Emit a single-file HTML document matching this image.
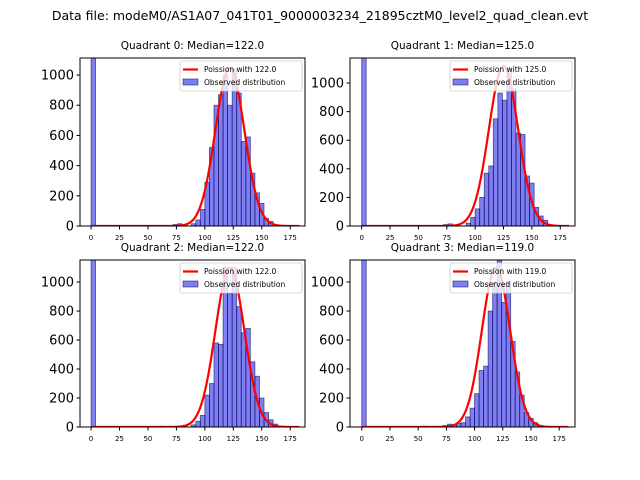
<!DOCTYPE html>
<html><head><meta charset="utf-8">
<style>body{margin:0;background:#fff}svg{display:block;font-family:"DejaVu Sans","Liberation Sans",sans-serif}</style>
</head><body>
<svg id="c" width="640" height="480" xmlns="http://www.w3.org/2000/svg">
<text x="320" y="20" text-anchor="middle" font-size="12.5">Data file: modeM0/AS1A07_041T01_9000003234_21895cztM0_level2_quad_clean.evt</text>
</svg>
<script>
const binWidth = 4;
const binStarts0 = [0,72,76,88,92,96,100,104,108,112,116,120,124,128,132,136,140,144,148,152,156,160];
const counts0 = [5000,10,15,15,40,110,290,520,800,870,1000,800,1040,880,560,590,350,220,150,50,30,10];
const binStarts1 = [0,72,76,92,96,100,104,108,112,116,120,124,128,132,136,140,144,148,152,156,160,164];
const counts1 = [5000,10,15,20,60,120,200,370,420,750,930,880,1100,960,650,640,350,300,130,70,40,10];
const binStarts2 = [0,60,68,76,88,92,96,100,104,108,112,116,120,124,128,132,136,140,144,148,152,156,160];
const counts2 = [5000,5,5,5,15,40,80,220,300,580,570,1100,920,1100,830,650,680,450,350,200,100,50,20];
const binStarts3 = [0,52,56,64,68,72,76,80,84,88,92,96,100,104,108,112,116,120,124,128,132,136,140,144,148,152,156];
const counts3 = [5000,5,5,5,5,10,20,15,25,30,70,130,230,390,420,800,1000,1150,860,1000,590,380,220,100,60,30,10];
const medians = [122.0,125.0,122.0,119.0];
const poissonPeaks = [1050,1120,1100,1100];
const yTicks = [0,200,400,600,800,1000];
const xTicks = [0,25,50,75,100,125,150,175];

const panels = [
 {L:80,T:58,R:305,B:226,x0:-9.7,x1:188,y1:1113,bs:binStarts0,c:counts0},
 {L:350,T:58,R:575,B:226,x0:-10.3,x1:188,y1:1175,bs:binStarts1,c:counts1},
 {L:80,T:260,R:305,B:427,x0:-9.7,x1:188,y1:1152,bs:binStarts2,c:counts2},
 {L:350,T:260,R:575,B:427,x0:-10.4,x1:189,y1:1152,bs:binStarts3,c:counts3}
];
const svg = document.getElementById('c');
const NS = 'http://www.w3.org/2000/svg';
function mk(tag, attrs, parent){const e=document.createElementNS(NS,tag);for(const k in attrs)e.setAttribute(k,attrs[k]);(parent||svg).appendChild(e);return e;}

panels.forEach((p,i)=>{
  const g = mk('g',{});
  
  
  const cid='clip'+i;
  const cp=mk('clipPath',{id:cid},g);
  mk('rect',{x:p.L,y:p.T,width:p.R-p.L,height:p.B-p.T},cp);
  const xs=v=>p.L+(v-p.x0)/(p.x1-p.x0)*(p.R-p.L);
  const ys=v=>p.B-v/p.y1*(p.B-p.T);
  const plot=mk('g',{'clip-path':'url(#'+cid+')'},g);
  p.bs.forEach((b,j)=>{
    const r=mk('rect',{x:xs(b),y:ys(p.c[j]),width:xs(b+binWidth)-xs(b),height:p.B-ys(p.c[j]),fill:'rgba(0,0,230,0.5)',stroke:'rgba(0,0,80,0.6)','stroke-width':0.8},plot);
    
    
  });
  const lam=medians[i];
  const sig=Math.sqrt(lam)*1.15;
  let d='';
  for(let k=0;k<=183;k++){const v=Math.exp(-Math.pow(k-lam,2)/(2*sig*sig))*poissonPeaks[i];d+=(k?'L':'M')+xs(k).toFixed(2)+','+ys(v).toFixed(2);}
  const ln=mk('path',{d:d,fill:'none',stroke:'#ff0000','stroke-width':2.2},plot);
  
  
  mk('rect',{x:p.L,y:p.T,width:p.R-p.L,height:p.B-p.T,fill:'none',stroke:'#000','stroke-width':1},g);
  yTicks.forEach(t=>{const y=ys(t);mk('line',{x1:p.L-3.5,x2:p.L,y1:y,y2:y,stroke:'#000'},g);
    const tx=mk('text',{x:p.L-6,y:y+4.5,'text-anchor':'end','font-size':13},g);tx.textContent=t;
    });
  xTicks.forEach(t=>{const x=xs(t);mk('line',{x1:x,x2:x,y1:p.B,y2:p.B+3.5,stroke:'#000'},g);
    const tx=mk('text',{x:x,y:p.B+14,'text-anchor':'middle','font-size':7},g);tx.textContent=t;
    });
  const ti=mk('text',{x:(p.L+p.R)/2,y:p.T-9,'text-anchor':'middle','font-size':10.5},g);
  ti.textContent='Quadrant '+i+': Median='+medians[i].toFixed(1);
  
  const lg=mk('g',{},g);
  
  const lx=p.R-125,ly=p.T+3;
  mk('rect',{x:lx,y:ly,width:122,height:30,fill:'#fff','fill-opacity':0.8,stroke:'#ccc','stroke-width':0.8,rx:2},lg);
  mk('line',{x1:lx+3,x2:lx+18,y1:ly+8.5,y2:ly+8.5,stroke:'#ff0000','stroke-width':2.2},lg);
  const t1=mk('text',{x:lx+24,y:ly+11,'font-size':7.5},lg);t1.textContent='Poission with '+medians[i].toFixed(1);
  mk('rect',{x:lx+3,y:ly+18,width:15,height:6,fill:'rgba(0,0,230,0.5)',stroke:'rgba(0,0,80,0.6)','stroke-width':0.8},lg);
  const t2=mk('text',{x:lx+24,y:ly+24,'font-size':7.5},lg);t2.textContent='Observed distribution';
});
</script>
</body></html>
